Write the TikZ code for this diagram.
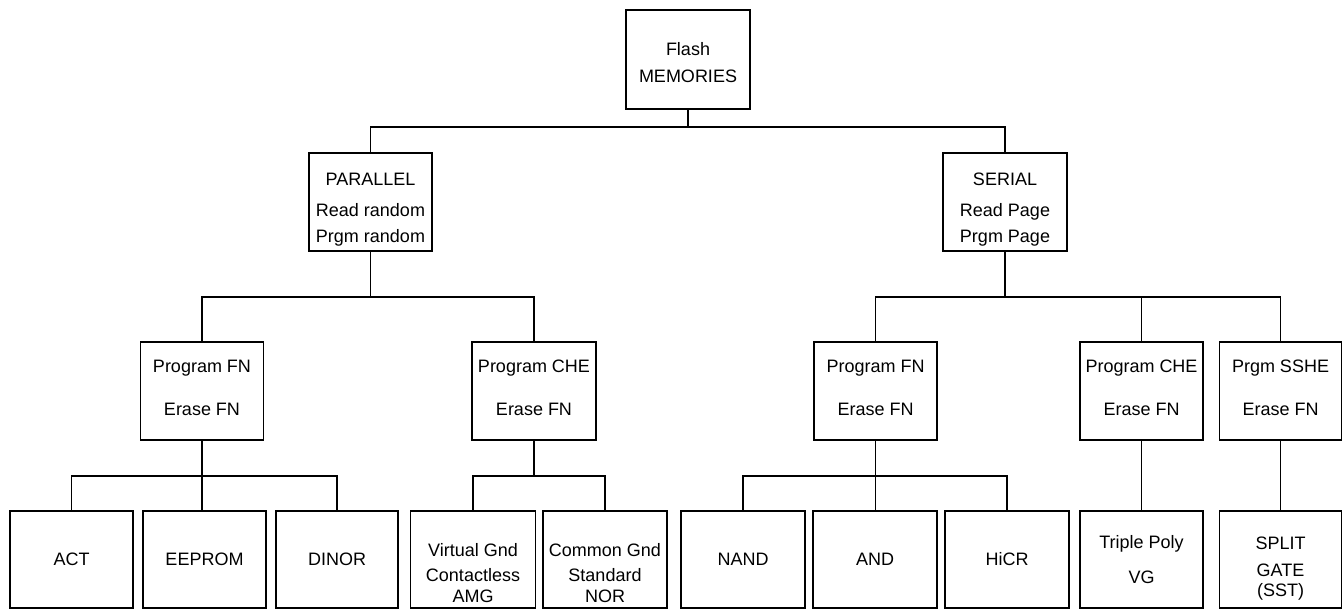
\documentclass[tikz,border=0pt]{standalone}
\usepackage{fontspec}
\setmainfont{Liberation Sans}
\begin{document}
\begin{tikzpicture}[x=1pt,y=-1pt,
  memb/.style={draw, line width=1.2pt, minimum width=123pt, minimum height=98pt,
    inner sep=0pt, align=center, font=\fontsize{18}{26}\selectfont},
  leaf/.style={memb, minimum height=97pt},
  conn/.style={line width=1.2pt}]
\useasboundingbox (0,0) rectangle (1343,610);
% level 0
\node[memb, minimum width=124pt, minimum height=99pt] (flash) at (688,59.5)
  {\rule{0pt}{20pt}Flash\\[1pt]MEMORIES};
% level 1
\node[memb] (par) at (370.5,202) {\rule{0pt}{26.8pt}PARALLEL\\[5pt]Read random\\Prgm random};
\node[memb, minimum width=124pt] (ser) at (1005,202) {\rule{0pt}{26.8pt}SERIAL\\[5pt]Read Page\\Prgm Page};
% level 2
\node[memb] (pfnL) at (202,391) {Program FN\\[17pt]Erase FN\rule[-6pt]{0pt}{0pt}};
\node[memb, minimum width=124pt] (pcheL) at (534,391) {Program CHE\\[17pt]Erase FN\rule[-6pt]{0pt}{0pt}};
\node[memb] (pfnR) at (875.5,391) {Program FN\\[17pt]Erase FN\rule[-6pt]{0pt}{0pt}};
\node[memb] (pcheR) at (1141.5,391) {Program CHE\\[17pt]Erase FN\rule[-6pt]{0pt}{0pt}};
\node[memb, minimum width=122pt] (psshe) at (1280.5,391) {Prgm SSHE\\[17pt]Erase FN\rule[-6pt]{0pt}{0pt}};
% level 3
\node[leaf] (act) at (71.5,559.5) {ACT};
\node[leaf] (eeprom) at (204.5,559.5) {EEPROM};
\node[leaf, minimum width=122pt] (dinor) at (337,559.5) {DINOR};
\node[leaf, minimum width=125pt, font=\fontsize{18}{21}\selectfont] (vgnd) at (473,559.5)
  {\rule{0pt}{41pt}Virtual Gnd\\[4pt]Contactless\\AMG};
\node[leaf, minimum width=124pt, font=\fontsize{18}{21}\selectfont] (cgnd) at (605,559.5)
  {\rule{0pt}{41pt}Common Gnd\\[4pt]Standard\\NOR};
\node[leaf, minimum width=124pt] (nand) at (743,559.5) {NAND};
\node[leaf, minimum width=124pt] (and) at (875,559.5) {AND};
\node[leaf, minimum width=124pt] (hicr) at (1007,559.5) {HiCR};
\node[leaf, font=\fontsize{18}{35}\selectfont] (triple) at (1141.5,559.5) {Triple Poly\\VG};
\node[leaf, minimum width=122pt, font=\fontsize{18}{20}\selectfont] (split) at (1280.5,559.5)
  {\rule{0pt}{29.8pt}SPLIT\\[7pt]GATE\\(SST)};
% bus junctions
\coordinate (b0) at (688,127);
\coordinate (b1) at (370.5,297);
\coordinate (b2) at (1005,297);
\coordinate (b3) at (202,476);
\coordinate (b4) at (534,476);
\coordinate (b5) at (875.5,476);
% connectors
\draw[conn] (flash.south) -- (b0);
\draw[conn] (par.north) |- (b0) -| (ser.north);
\draw[conn] (par.south) -- (b1);
\draw[conn] (pfnL.north) |- (b1) -| (pcheL.north);
\draw[conn] (ser.south) -- (b2);
\draw[conn] (pfnR.north) |- (b2) -| (psshe.north);
\draw[conn] (b2 -| pcheR.north) -- (pcheR.north);
\draw[conn] (pfnL.south) -- (pfnL.south |- eeprom.north);
\draw[conn] (act.north) |- (b3) -| (dinor.north);
\draw[conn] (pcheL.south) -- (b4);
\draw[conn] (vgnd.north) |- (b4) -| (cgnd.north);
\draw[conn] (pfnR.south) -- (pfnR.south |- and.north);
\draw[conn] (nand.north) |- (b5) -| (hicr.north);
\draw[conn] (pcheR.south) -- (triple.north);
\draw[conn] (psshe.south) -- (split.north);
\end{tikzpicture}
\end{document}
